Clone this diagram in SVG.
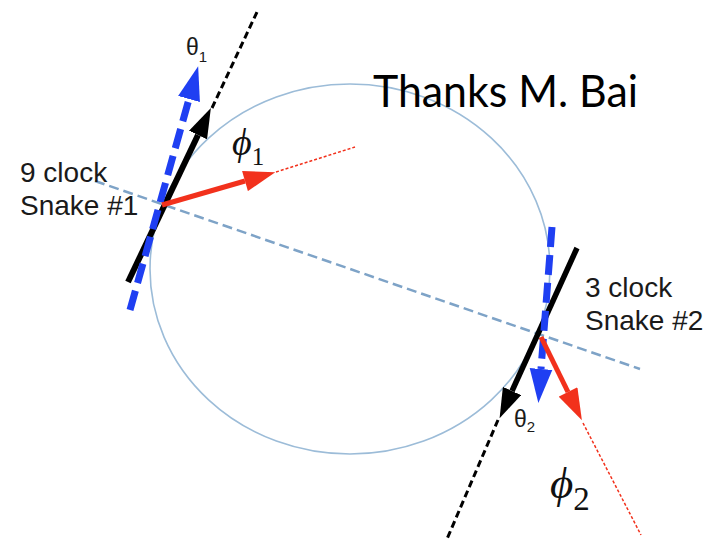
<svg xmlns="http://www.w3.org/2000/svg" width="721" height="539" viewBox="0 0 721 539">
<style>
.sans{font-family:"Liberation Sans",Arial,sans-serif;fill:#1a1a1a}
.serif{font-family:"Liberation Serif","DejaVu Serif",serif;font-style:italic;fill:#111}
.blk{stroke:#000;fill:none;stroke-linecap:butt}
.blu{stroke:#1f3ff2;fill:none;stroke-width:7;stroke-dasharray:20 8}
.red{stroke:#f2311c;fill:none;stroke-width:5}
.bdash{stroke:#000;stroke-width:3;stroke-dasharray:7 4;fill:none}
.rdot{stroke:#f2311c;stroke-width:1.5;stroke-dasharray:3 2;fill:none}
</style>
<defs>
<marker id="hk" viewBox="0 0 30 20" markerWidth="30" markerHeight="20" refX="0" refY="10" orient="auto" markerUnits="userSpaceOnUse"><path d="M0,0 L30,10 L0,20 z" fill="#000"/></marker>
<marker id="hb" viewBox="0 0 30 20" markerWidth="34" markerHeight="24" refX="0" refY="10" orient="auto" markerUnits="userSpaceOnUse"><path d="M0,0 L30,10 L0,20 z" fill="#1f3ff2"/></marker>
<marker id="hr" viewBox="0 0 30 20" markerWidth="33" markerHeight="21" refX="0" refY="10" orient="auto" markerUnits="userSpaceOnUse"><path d="M0,0 L30,10 L0,20 z" fill="#f2311c"/></marker>
</defs>
<rect width="721" height="539" fill="#fff"/>
<g id="ring"><ellipse cx="350" cy="269" rx="200" ry="185" fill="none" stroke="#9cbcd8" stroke-width="1.6"/></g>
<g id="connectors">
<line id="axis" x1="95" y1="181" x2="640" y2="369" stroke="#7ea3c7" stroke-width="2.5" stroke-dasharray="10 5"/>
<g id="snake1">
<line class="bdash" x1="212" y1="108" x2="257" y2="12"/>
<line class="blk" x1="128" y1="282" x2="198" y2="135" stroke-width="6" marker-end="url(#hk)"/>
<line class="blu" x1="130" y1="310" x2="189" y2="99" marker-end="url(#hb)"/>
<line class="rdot" x1="276" y1="172" x2="355" y2="147"/>
<line class="red" x1="162" y1="205" x2="245" y2="181" marker-end="url(#hr)"/>
</g>
<g id="snake2">
<line class="bdash" x1="498" y1="420" x2="447" y2="539"/>
<line class="blk" x1="577" y1="248" x2="512" y2="391" stroke-width="5.5" marker-end="url(#hk)"/>
<line class="blu" x1="552" y1="227" x2="541" y2="369" marker-end="url(#hb)"/>
<line class="rdot" x1="583" y1="423" x2="641" y2="535"/>
<line class="red" x1="541" y1="337" x2="568" y2="392" marker-end="url(#hr)"/>
</g>
</g>
<g id="labels">
<text class="sans" x="20" y="182" font-size="28">9 clock</text>
<text class="sans" x="20" y="215" font-size="28">Snake #1</text>
<text class="sans" x="585" y="297" font-size="28">3 clock</text>
<text class="sans" x="585" y="330" font-size="28">Snake #2</text>
<text class="sans" x="186" y="55" font-size="23" fill="#333">θ<tspan font-size="15" dy="7">1</tspan></text>
<text class="sans" x="514" y="427" font-size="23" fill="#333">θ<tspan font-size="15" dy="5">2</tspan></text>
<text class="serif" x="232" y="155" font-size="38">ϕ<tspan font-style="normal" font-size="25" dy="10">1</tspan></text>
<text class="serif" x="550" y="498" font-size="45">ϕ<tspan font-style="normal" font-size="33" dy="12">2</tspan></text>
<text x="373" y="107" font-family="Lato,'Open Sans',sans-serif" font-size="44" fill="#000" textLength="265" lengthAdjust="spacingAndGlyphs">Thanks M. Bai</text>
</g>
</svg>
